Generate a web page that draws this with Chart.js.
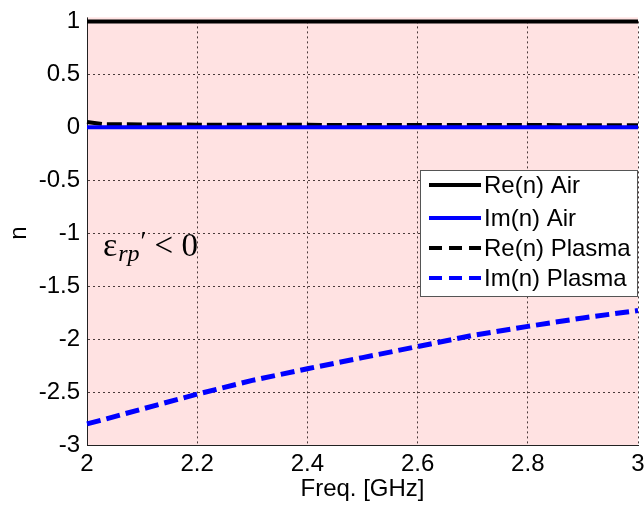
<!DOCTYPE html>
<html>
<head>
<meta charset="utf-8">
<script src="https://cdn.jsdelivr.net/npm/chart.js@4.4.0/dist/chart.umd.min.js"></script>
<style>
html, body { margin: 0; padding: 0; background: #fff; }
#wrap { width: 644px; height: 507px; }
</style>
</head>
<body>
<div id="wrap"><canvas id="mycanvas" width="644" height="507"></canvas></div>
<script>
// values
var freq     = [2.0, 2.03, 2.1, 2.2, 2.3, 2.4, 2.5, 2.6, 2.7, 2.8, 2.9, 3.0];
var reAir    = [1, 1, 1, 1, 1, 1, 1, 1, 1, 1, 1, 1];
var imAir    = [0, 0, 0, 0, 0, 0, 0, 0, 0, 0, 0, 0];
var rePlasma = [0.05, 0.03, 0.027, 0.025, 0.024, 0.023, 0.022, 0.022, 0.021, 0.021, 0.020, 0.020];
var imPlasma = [-2.80, -2.76, -2.66, -2.52, -2.39, -2.28, -2.175, -2.07, -1.965, -1.88, -1.80, -1.73];
var labels   = ["Re(n) Air", "Im(n) Air", "Re(n) Plasma", "Im(n) Plasma"];
var xTicks   = [2, 2.2, 2.4, 2.6, 2.8, 3];
var yTicks   = [-3, -2.5, -2, -1.5, -1, -0.5, 0, 0.5, 1];

function pts(ys) {
    var out = [];
    for (var i in freq) {
        out.push({x: freq[i], y: ys[i]});
    }
    return out;
}

var FONT = "'Liberation Sans', Arial, sans-serif";

var bgPlugin = {
    id: 'bg',
    beforeDraw: function(chart) {
        var a = chart.chartArea, c = chart.ctx;
        c.save();
        c.fillStyle = '#ffe2e2';
        c.fillRect(a.left, a.top - 4, a.right - a.left, a.bottom - a.top + 4);
        // axis line reaches a bit above the top tick, like the original
        c.fillStyle = '#222';
        c.fillRect(a.left, a.top - 4, 1, 5);
        c.restore();
    }
};

var legendPlugin = {
    id: 'boxLegend',
    afterDraw: function(chart) {
        var c = chart.ctx, a = chart.chartArea;
        var x0 = 420, y0 = 170, w = a.right - x0, h = 127;
        c.save();
        c.fillStyle = '#fff';
        c.fillRect(x0, y0, w, h);
        c.strokeStyle = '#555';
        c.lineWidth = 1;
        c.strokeRect(x0 + 0.5, y0 + 0.5, w - 1, h - 1);
        var rows = [185, 218, 248, 278];
        c.font = '24px ' + FONT;
        c.textBaseline = 'middle';
        chart.data.datasets.forEach(function(ds, i) {
            c.beginPath();
            c.strokeStyle = ds.borderColor;
            c.lineWidth = 4;
            c.setLineDash(ds.borderDash && ds.borderDash.length ? [13, 7] : []);
            c.moveTo(429, rows[i]);
            c.lineTo(481, rows[i]);
            c.stroke();
            c.setLineDash([]);
            c.fillStyle = '#000';
            c.fillText(ds.label, 484, rows[i] + 1);
        });
        c.restore();
    }
};

var notePlugin = {
    id: 'note',
    afterDraw: function(chart) {
        var c = chart.ctx;
        c.save();
        c.fillStyle = '#000';
        c.textBaseline = 'alphabetic';
        var x = 103, y = 256;
        c.font = "34px 'Liberation Serif', serif";
        c.fillText('\u03b5', x, y);
        x += c.measureText('\u03b5').width + 1;
        c.font = "italic 24px 'Liberation Serif', serif";
        c.fillText('rp', x, y + 5);
        x += c.measureText('rp').width + 1;
        c.font = "27px 'Liberation Serif', serif";
        c.fillText('\u2032', x, y - 6);
        x += c.measureText('\u2032').width + 8;
        c.font = "33px 'Liberation Serif', serif";
        c.fillText('< 0', x, y);
        c.restore();
    }
};

var chartdata = {
    datasets: [
        { label: labels[0], data: pts(reAir), borderColor: '#000000', borderWidth: 4, borderDash: [], clip: 6 },
        { label: labels[1], data: pts(imAir), borderColor: '#0000ff', borderWidth: 4, borderDash: [], clip: 6 },
        { label: labels[2], data: pts(rePlasma), borderColor: '#000000', borderWidth: 4, borderDash: [15, 5], clip: 6 },
        { label: labels[3], data: pts(imPlasma), borderColor: '#0000ff', borderWidth: 5, borderDash: [14, 6], clip: 6 }
    ]
};

var gridStyle = {
    color: '#4a3a3a',
    lineWidth: 1,
    drawTicks: false
};
var borderStyle = { display: true, color: '#222', width: 1, dash: [2, 3] };

var ctx = document.getElementById('mycanvas');
var LineGraph = new Chart(ctx, {
    type: 'line',
    data: chartdata,
    plugins: [bgPlugin, legendPlugin, notePlugin],
    options: {
        responsive: false,
        animation: false,
        devicePixelRatio: 1,
        layout: { padding: { left: 0, right: 0, top: 18, bottom: 0 } },
        elements: {
            point: { radius: 0 },
            line: { tension: 0, fill: false, borderCapStyle: 'butt' }
        },
        plugins: {
            legend: { display: false },
            tooltip: { enabled: false }
        },
        scales: {
            x: {
                type: 'linear',
                min: 2, max: 3,
                afterBuildTicks: function(s) { s.ticks = xTicks.map(function(v) { return {value: v}; }); },
                afterFit: function(s) { s.height = 62; s.paddingRight = 6; s.paddingLeft = 0; },
                ticks: {
                    color: '#000',
                    font: { size: 24, family: FONT },
                    padding: 5,
                    maxRotation: 0,
                    callback: function(v) { return String(v); }
                },
                grid: gridStyle,
                border: borderStyle,
                title: {
                    display: true, text: 'Freq. [GHz]', color: '#000',
                    font: { size: 24, family: FONT },
                    padding: { top: 0, bottom: 3 }
                }
            },
            y: {
                min: -3, max: 1,
                afterBuildTicks: function(s) { s.ticks = yTicks.map(function(v) { return {value: v}; }); },
                afterFit: function(s) { s.width = 87; },
                ticks: {
                    color: '#000',
                    font: { size: 24, family: FONT },
                    padding: 7,
                    callback: function(v) { return String(v); }
                },
                grid: gridStyle,
                border: borderStyle,
                title: {
                    display: true, text: 'n', color: '#000',
                    font: { size: 24, family: FONT },
                    padding: { top: 5, bottom: 0 }
                }
            }
        }
    }
});
</script>
</body>
</html>
